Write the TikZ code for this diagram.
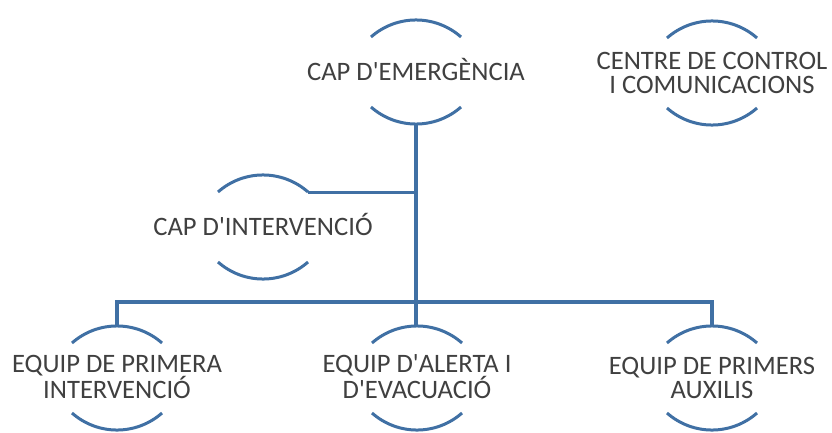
\documentclass[tikz,border=0pt]{standalone}
\usepackage{fontspec}
\setmainfont{Carlito}[Ligatures=TeXOff]
\usetikzlibrary{calc}
\definecolor{linec}{HTML}{4070A4}
\definecolor{txt}{HTML}{404040}
\tikzset{
  lbl/.style={font=\fontsize{26.6}{24.5}\selectfont, text=txt, align=center, inner sep=0pt},
  lbl1/.style={lbl, text height=17.1pt, text depth=0pt},
  lbl2/.style={lbl, text height=41.6pt, text depth=0pt},
  arcline/.style={draw=linec, line width=3pt},
  conn/.style={draw=linec, line width=4pt},
  thinconn/.style={draw=linec, line width=3pt}
}
\newcommand\nodearcs[1]{%
  \draw[arcline] ($(#1)+(-45,-35)$) .. controls ($(#1)+(-19.3,-57.7)$) and ($(#1)+(19.3,-57.7)$) .. ($(#1)+(45,-35)$);
  \draw[arcline] ($(#1)+(-45,35)$) .. controls ($(#1)+(-19.3,57.7)$) and ($(#1)+(19.3,57.7)$) .. ($(#1)+(45,35)$);
}
\begin{document}
\begin{tikzpicture}[x=1pt,y=-1pt]
\useasboundingbox[fill=white] (0,0) rectangle (832,433);
\node[lbl1] (em)  at (416,72)    {CAP D'EMERGÈNCIA};
\node[lbl2] (ccc) at (712,73)    {CENTRE DE CONTROL\\I COMUNICACIONS};
\node[lbl1] (int) at (263,227)   {CAP D'INTERVENCIÓ};
\node[lbl2] (b1)  at (117,378)   {EQUIP DE PRIMERA\\INTERVENCIÓ};
\node[lbl2] (b2)  at (417,378)   {EQUIP D'ALERTA I\\D'EVACUACIÓ};
\node[lbl2] (b3)  at (712,378)   {EQUIP DE PRIMERS\\AUXILIS};
\nodearcs{em}
\nodearcs{ccc}
\nodearcs{int}
\nodearcs{b1}
\nodearcs{b2}
\nodearcs{b3}
\coordinate (emB) at ($(em)+(0,52)$);
\coordinate (b1T) at ($(b1)+(0,-52)$);
\coordinate (b2T) at ($(b2)+(0,-52)$);
\coordinate (b3T) at ($(b3)+(0,-52)$);
\coordinate (intR) at ($(int)+(45,-35)$);
\draw[conn] (emB) -- (emB |- b2T);
\draw[conn] (b1T) -- ++(0,-24) -| (b3T);
\draw[thinconn] (intR) -- (intR -| emB);
\end{tikzpicture}
\end{document}
